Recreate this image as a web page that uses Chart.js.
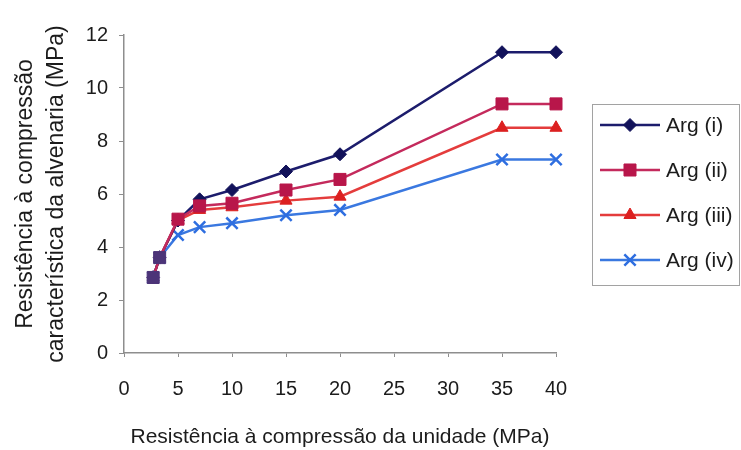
<!DOCTYPE html>
<html lang="pt">
<head>
<meta charset="utf-8">
<title>Resistência à compressão</title>
<script src="https://cdn.jsdelivr.net/npm/chart.js@4.4.1/dist/chart.umd.min.js"></script>
<style>
  html, body { margin: 0; padding: 0; background: #ffffff; }
  #wrap { width: 741px; height: 450px; position: relative; }
</style>
</head>
<body>
<div id="wrap"><canvas id="c" width="741" height="450"></canvas></div>
<script>
// Resistência da unidade (MPa)
const unitStrength = [2.7, 3.3, 5, 7, 10, 15, 20, 35, 40];
// Resistência característica da alvenaria (MPa), por argamassa
const argI   = [2.85, 3.6, 5.0, 5.8, 6.15, 6.85, 7.5, 11.35, 11.35];
const argII  = [2.85, 3.6, 5.05, 5.55, 5.65, 6.15, 6.55, 9.4, 9.4];
const argIII = [2.85, 3.6, 5.0, 5.4, 5.5, 5.75, 5.9, 8.5, 8.5];
const argIV  = [2.85, 3.6, 4.45, 4.75, 4.9, 5.2, 5.4, 7.3, 7.3];
const seriesNames = ['Arg (i)', 'Arg (ii)', 'Arg (iii)', 'Arg (iv)'];
const seriesValues = [argI, argII, argIII, argIV];

const lineColors   = ['#1c1c6c', '#c42a5c', '#e43c3c', '#3a78e0'];
const markerColors = ['#12125a', '#b8164a', '#dc2020', '#2e6ee0'];
const markerStyles = ['rectRot', 'rect', 'triangle', 'crossRot'];
const markerRadii  = [6.5, 8.5, 7, 8];
const sharedStartColor = '#4c3478';

const FONT = '"Liberation Sans", Arial, sans-serif';
const TEXT = '#1c1c1c';
const AXIS = '#8e8e8e';

function toPoints(values) {
  return values.map((v, i) => ({ x: unitStrength[i], y: v }));
}

const datasets = seriesValues.map((vals, i) => {
  const isCross = markerStyles[i] === 'crossRot';
  const bg = vals.map((_, k) => (k < 2 ? sharedStartColor : markerColors[i]));
  return {
    label: seriesNames[i],
    data: toPoints(vals),
    borderColor: lineColors[i],
    borderWidth: 2.5,
    pointStyle: markerStyles[i],
    pointRadius: markerRadii[i],
    pointBackgroundColor: bg,
    pointBorderColor: isCross ? markerColors[i] : bg,
    pointBorderWidth: isCross ? 2.5 : 1,
    tension: 0,
    fill: false,
    clip: false,
    order: i === 1 ? 0 : i + 1
  };
});

// Legend on the right: line sample with the marker in its middle
const sideLegend = {
  id: 'sideLegend',
  afterDraw(chart) {
    const ctx = chart.ctx;
    ctx.save();
    ctx.strokeStyle = '#a2a2a2';
    ctx.lineWidth = 1;
    ctx.strokeRect(592.5, 104.5, 147, 181);
    chart.data.datasets.forEach((ds, i) => {
      const y = 125 + i * 45;
      ctx.strokeStyle = lineColors[i];
      ctx.lineWidth = 2.5;
      ctx.beginPath();
      ctx.moveTo(600, y);
      ctx.lineTo(660, y);
      ctx.stroke();
      ctx.fillStyle = markerColors[i];
      ctx.strokeStyle = markerColors[i];
      ctx.lineWidth = markerStyles[i] === 'crossRot' ? 2.5 : 1;
      Chart.helpers.drawPoint(ctx, {
        pointStyle: markerStyles[i],
        radius: markerRadii[i],
        rotation: 0,
        borderWidth: ctx.lineWidth
      }, 630, y);
      ctx.fillStyle = TEXT;
      ctx.font = '21px ' + FONT;
      ctx.textAlign = 'left';
      ctx.textBaseline = 'middle';
      ctx.fillText(seriesNames[i], 666, y + 1);
    });
    ctx.restore();
  }
};

new Chart(document.getElementById('c'), {
  type: 'line',
  data: { datasets },
  plugins: [sideLegend],
  options: {
    responsive: false,
    animation: false,
    devicePixelRatio: 1,
    layout: { padding: { top: 35, right: 185, bottom: 0, left: 0 } },
    plugins: {
      legend: { display: false },
      tooltip: { enabled: false }
    },
    scales: {
      x: {
        type: 'linear',
        min: 0,
        max: 40,
        afterFit(scale) { scale.height = 97; },
        ticks: {
          stepSize: 5,
          color: TEXT,
          font: { family: FONT, size: 20 },
          padding: 20,
          maxRotation: 0
        },
        grid: {
          drawOnChartArea: false,
          drawTicks: true,
          tickLength: 4,
          color: AXIS,
          lineWidth: 1
        },
        border: { display: true, color: AXIS, width: 1.5 },
        title: {
          display: true,
          text: 'Resistência à compressão da unidade (MPa)',
          color: TEXT,
          font: { family: FONT, size: 21 },
          padding: { top: 0, bottom: 0 }
        }
      },
      y: {
        min: 0,
        max: 12,
        afterFit(scale) { scale.width = 124; },
        ticks: {
          stepSize: 2,
          color: TEXT,
          font: { family: FONT, size: 20 },
          padding: 11
        },
        grid: {
          drawOnChartArea: false,
          drawTicks: true,
          tickLength: 5,
          color: AXIS,
          lineWidth: 1
        },
        border: { display: true, color: AXIS, width: 1.5 },
        title: {
          display: true,
          text: ['Resistência à compressão', 'característica da alvenaria (MPa)'],
          color: TEXT,
          font: { family: FONT, size: 23, lineHeight: 1.35 },
          padding: { top: 10, bottom: 0 }
        }
      }
    }
  }
});
</script>
</body>
</html>
